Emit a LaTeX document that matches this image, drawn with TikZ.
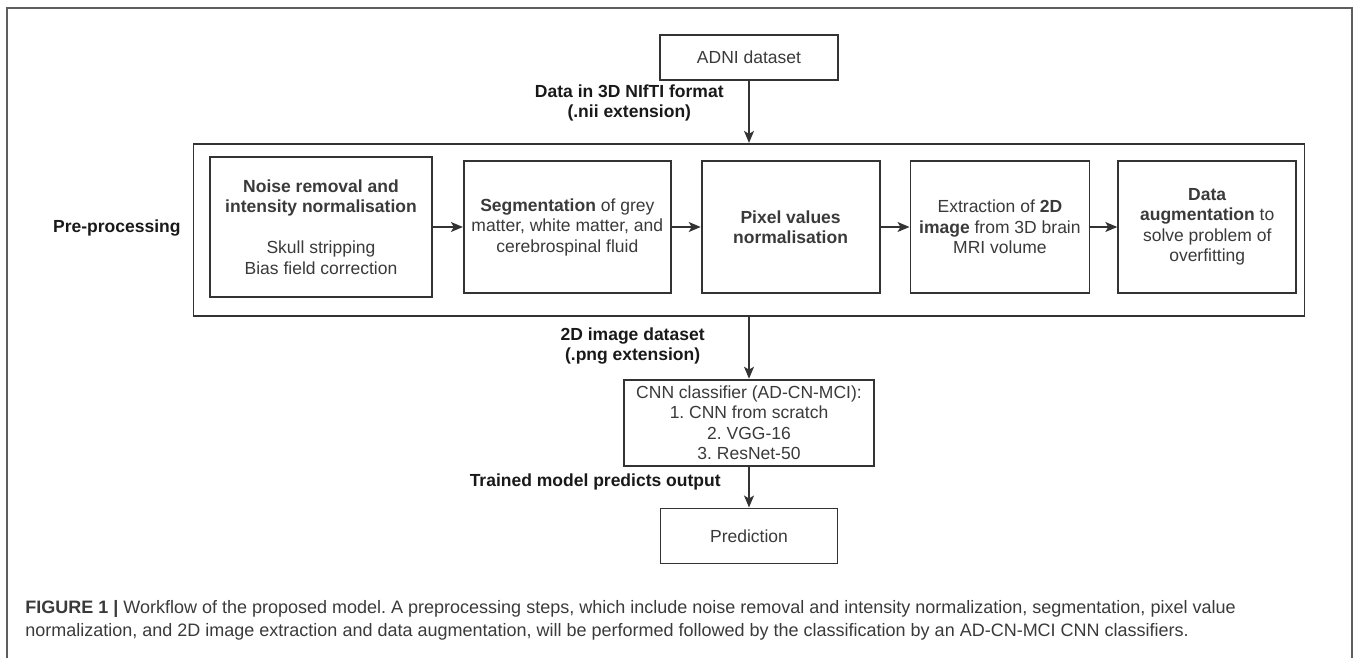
\documentclass[tikz,border=0pt]{standalone}
\usepackage{fontspec}
\setmainfont{Liberation Sans}
\usetikzlibrary{arrows.meta,positioning}
\usepackage{xcolor}
\definecolor{Ink}{HTML}{333333}
\definecolor{TextGrey}{HTML}{3A3A3A}
\definecolor{Frame}{HTML}{5E5E5E}
\frenchspacing
\newcommand{\boxfont}{\fontsize{8.75pt}{10.25pt}\selectfont}
\newcommand{\capfont}{\fontsize{9pt}{11.5pt}\selectfont}
\tikzset{
 stepbox/.style={draw=Ink, line width=0.9pt, fill=white, minimum width=89pt, minimum height=66pt, align=center, inner sep=2pt, font=\boxfont, text=TextGrey},
 groupbox/.style={draw=Ink, line width=0.9pt, minimum width=555.5pt, minimum height=86pt, inner sep=0pt},
 lbl/.style={font=\boxfont\bfseries, text=black!90, align=center, inner sep=0pt},
 arrow/.style={-{Stealth[length=6pt,width=5pt,inset=1.5pt]}, line width=0.75pt, draw=Ink}
}

\begin{document}
\begin{tikzpicture}[x=0.5pt,y=-0.5pt,node distance=14.5pt]
\useasboundingbox (0,0) rectangle (1358,658);
\draw[Frame, line width=1pt] (7,658) -- (7,8) -- (1352,8) -- (1352,658);
\node[stepbox, minimum height=22.5pt] (adni) at (749,57.5) {ADNI dataset};
\node[groupbox, below=31pt of adni] (pre) {};
\node[stepbox, minimum width=111pt, minimum height=70pt] (noise) at (321,227) {\textbf{Noise removal and}\\\textbf{intensity normalisation}\\[10.25pt]Skull stripping\\Bias field correction};
\node[stepbox, minimum width=103.5pt, right=15pt of noise] (seg) {\textbf{Segmentation} of grey\\matter, white matter, and\\cerebrospinal fluid};
\node[stepbox, right=of seg] (pixel) {\textbf{Pixel values}\\\textbf{normalisation}};
\node[stepbox, minimum width=89.5pt, right=of pixel] (extract) {Extraction of \textbf{2D}\\\textbf{image} from 3D brain\\MRI volume};
\node[stepbox, right=13.5pt of extract] (augment) {\textbf{Data}\\\textbf{augmentation} to\\solve problem of\\overfitting};
\node[lbl, anchor=east] (prelbl) at (181,228) {Pre-processing};
\node[lbl, anchor=east] (niilbl) at (724,103) {Data in 3D NIfTI format\\(.nii extension)};
\node[stepbox, minimum width=125pt, minimum height=43pt, below=31pt of pre] (cnn) {CNN classifier (AD-CN-MCI):\\1. CNN from scratch\\2. VGG-16\\3. ResNet-50};
\node[lbl, anchor=east] (pnglbl) at (705,346) {2D image dataset\\(.png extension)};
\node[stepbox, minimum width=88.5pt, minimum height=27.5pt, below=20.5pt of cnn] (pred) {Prediction};
\node[lbl, anchor=east] (outlbl) at (721,482) {Trained model predicts output};
\draw[arrow] (adni) -- (pre);
\draw[arrow] (noise) -- (seg);\draw[arrow] (seg) -- (pixel);\draw[arrow] (pixel) -- (extract);\draw[arrow] (extract) -- (augment);
\draw[arrow] (pre) -- (cnn);\draw[arrow] (cnn) -- (pred);
% caption
\node[anchor=north west, align=left, inner sep=0pt, font=\capfont, text=TextGrey] (caption) at (25,600) {\textbf{FIGURE 1 |} Workflow of the proposed model. A preprocessing steps, which include noise removal and intensity normalization, segmentation, pixel value\\normalization, and 2D image extraction and data augmentation, will be performed followed by the classification by an AD-CN-MCI CNN classifiers.};
\end{tikzpicture}
\end{document}
